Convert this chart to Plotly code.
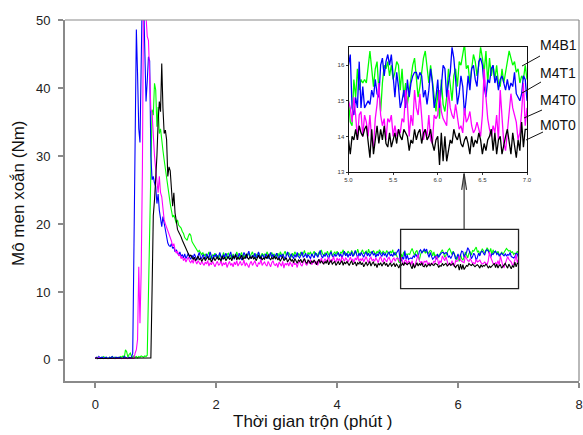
import numpy as np
import plotly.graph_objects as go

# ---------------- data (torque in Nm, sampled every 0.02 min) ----------------
step_min = 0.02

torque_M4B1 = [  # green
    0.3,0.2,0.4,0.3,0.2,0.4,0.3,0.5,0.3,0.4,
    0.2,0.3,0.4,0.3,0.5,0.3,0.4,0.2,0.3,0.4,
    0.3,0.5,0.4,0.6,0.3,1.5,1.2,0.4,0.8,1.0,
    0.5,0.4,0.6,0.4,0.5,0.3,0.5,0.4,0.6,0.5,
    0.4,0.6,0.5,0.7,8.8,21.0,28.4,36.8,36.0,40.7,
    39.7,34.3,37.2,33.3,34.0,31.9,30.8,29.4,28.0,26.5,
    25.5,24.5,23.0,22.0,21.0,21.3,20.5,20.1,20.6,19.8,
    19.6,19.4,18.9,18.6,18.0,17.8,17.6,18.2,18.6,18.3,
    17.4,17.1,16.8,16.4,16.2,15.9,16.1,15.7,15.5,15.8,
    15.3,15.6,15.1,15.4,15.9,15.2,14.9,15.5,15.3,15.7,
    15.1,15.4,14.8,15.6,15.2,15.0,15.8,15.3,14.9,15.5,
    15.7,15.2,15.4,14.9,15.6,15.1,15.3,15.9,15.2,15.0,
    15.5,15.8,15.1,15.4,15.0,15.6,15.3,15.7,15.2,15.5,
    15.9,15.3,15.0,15.6,15.2,15.8,15.4,15.1,15.7,15.3,
    15.6,15.2,15.9,15.4,15.1,15.5,15.8,15.3,15.6,15.0,
    15.4,15.7,15.2,15.9,15.5,15.1,15.6,16.0,15.3,15.5,
    15.8,15.4,15.1,15.7,15.3,15.9,15.5,15.2,15.6,15.4,
    15.9,15.3,15.6,16.1,15.4,15.2,15.8,15.5,15.9,15.3,
    15.6,16.0,15.4,15.7,15.2,15.9,15.5,16.2,15.6,15.3,
    15.8,15.5,16.0,15.4,15.7,16.1,15.3,15.6,15.9,15.5,
    16.0,15.6,15.3,15.9,15.7,16.2,15.5,15.8,15.4,16.0,
    15.7,15.5,16.1,15.8,15.4,16.0,15.6,16.3,15.7,15.5,
    15.9,16.2,15.6,15.8,16.0,15.5,16.3,15.7,15.9,15.6,
    16.1,15.8,15.5,16.0,15.7,16.2,15.9,15.6,16.0,15.8,
    15.6,16.1,15.8,15.5,16.0,15.7,16.2,15.4,15.9,15.5,
    15.0,14.4,14.3,15.6,15.1,15.9,15.3,15.6,15.5,15.6,
    15.5,16.0,16.4,15.9,15.4,15.9,16.1,15.3,14.7,15.5,
    16.0,15.9,16.1,15.7,16.0,15.6,15.8,16.1,16.0,15.3,
    15.9,15.1,15.5,14.9,15.3,15.6,16.0,16.2,15.7,15.1,
    15.4,15.9,16.2,16.4,15.9,15.5,16.0,15.6,15.1,14.7,
    15.3,14.5,15.6,14.9,14.7,15.1,15.9,15.4,15.0,15.7,
    15.9,15.4,16.1,16.0,16.4,16.6,15.9,16.0,15.5,15.9,
    16.3,16.1,15.7,16.0,16.5,16.2,15.8,16.4,15.5,16.2,
    15.7,16.0,15.6,16.0,15.5,15.4,15.9,15.5,15.8,16.2,
    16.4,16.2,16.0,16.1,15.8,15.9,15.5,15.7,15.6,16.0,
    15.6,
]

torque_M4T1 = [  # blue
    0.3,0.4,0.2,0.5,0.3,0.3,0.4,0.2,0.3,0.4,
    0.3,0.2,0.4,0.3,0.5,0.3,0.2,0.4,0.3,0.3,
    0.4,0.3,0.2,0.3,0.5,0.4,0.3,0.2,0.4,0.3,
    0.4,1.0,16.4,30.0,48.6,42.0,34.0,32.0,45.0,55.0,
    53.0,44.0,38.0,41.0,44.6,44.0,30.0,26.5,27.0,26.0,
    25.5,23.0,24.4,22.0,20.5,19.6,21.1,20.1,18.6,17.6,
    17.2,16.8,16.7,17.1,16.4,16.6,15.9,16.2,15.7,15.4,
    15.9,15.2,15.5,15.0,15.6,14.9,15.3,15.7,15.1,14.8,
    15.4,15.0,15.6,15.2,14.7,15.3,15.8,15.1,14.9,15.5,
    15.2,14.8,15.6,15.3,15.0,15.9,15.1,14.7,15.4,15.2,
    15.6,14.9,15.3,15.8,15.1,14.8,15.5,15.0,15.7,15.2,
    14.9,15.4,15.9,15.1,15.3,14.8,15.6,15.2,15.0,15.7,
    15.3,14.7,15.2,15.8,15.4,15.0,15.5,16.0,15.2,14.9,
    15.4,15.1,15.7,15.0,15.3,15.9,15.2,14.8,15.5,15.3,
    15.0,15.6,15.2,14.9,15.4,15.8,15.1,15.5,15.0,15.3,
    15.7,15.2,14.9,15.5,15.1,15.6,15.3,14.8,15.4,15.9,
    15.2,15.0,15.6,15.3,14.9,15.5,15.1,15.8,15.2,15.0,
    15.4,15.9,15.1,15.3,15.7,15.0,15.5,15.2,14.9,15.6,
    15.3,15.0,15.8,15.4,15.1,15.6,16.1,15.3,15.0,15.5,
    15.2,15.7,15.4,14.9,15.5,15.9,15.3,15.1,15.6,15.2,
    15.5,15.8,15.2,15.6,15.0,15.4,16.0,15.3,15.7,15.1,
    15.6,15.3,15.9,15.2,15.5,16.1,15.4,15.0,15.7,15.3,
    15.8,15.4,15.1,15.6,15.9,15.3,15.7,15.2,15.5,16.0,
    15.4,15.7,15.1,15.6,15.3,15.9,15.5,15.2,15.8,15.4,
    15.6,15.1,15.7,15.9,15.3,15.5,15.2,15.8,15.4,15.7,
    16.0,16.3,14.8,14.6,15.1,14.8,16.1,14.8,15.4,14.8,
    14.9,15.0,14.9,15.3,15.1,15.6,15.2,15.1,16.0,16.2,
    15.7,16.1,16.3,16.0,16.3,15.6,15.1,15.8,15.4,14.8,
    15.0,15.3,14.8,15.6,15.1,15.5,15.7,15.8,15.8,15.6,
    15.8,15.7,15.1,15.3,14.9,15.3,15.9,15.5,14.8,15.1,
    15.6,14.8,15.4,16.0,15.9,15.1,15.5,15.8,16.5,16.2,
    15.6,14.9,15.2,15.7,15.4,14.6,15.1,15.7,15.3,15.9,
    16.0,15.6,15.4,16.1,16.2,16.0,15.4,15.1,15.6,15.5,
    15.9,16.0,15.5,15.7,15.3,15.6,15.7,15.5,15.3,15.6,
    15.3,15.5,15.4,15.8,15.2,15.1,15.0,15.2,15.7,15.6,
    15.0,
]

torque_M4T0 = [  # magenta
    0.2,0.3,0.2,0.3,0.2,0.2,0.3,0.2,0.3,0.2,
    0.3,0.2,0.2,0.3,0.2,0.3,0.2,0.2,0.3,0.2,
    0.2,0.3,0.2,0.2,0.3,0.2,0.3,0.2,0.2,0.3,
    0.2,0.3,0.2,1.0,1.5,3.0,13.7,5.4,13.0,28.0,
    56.0,55.0,50.5,47.6,47.0,42.0,36.8,36.3,32.0,30.0,
    28.0,26.0,24.6,27.0,24.6,24.0,22.0,20.6,20.0,19.5,
    19.2,18.6,18.2,17.5,16.7,17.1,16.2,15.7,16.0,15.3,
    15.5,14.9,15.2,14.6,15.0,14.4,14.8,15.1,14.5,14.3,
    14.7,14.2,14.9,14.4,14.1,14.6,14.3,14.0,14.5,14.2,
    13.9,14.4,14.1,14.6,13.8,14.3,14.0,14.5,14.1,13.7,
    14.2,14.5,13.9,14.1,14.6,13.8,14.3,14.0,14.4,13.6,
    14.1,14.5,13.9,14.2,13.7,14.4,14.0,14.6,13.8,14.2,
    14.5,13.9,14.1,14.7,13.8,14.3,14.0,13.6,14.2,14.5,
    13.9,14.2,14.6,14.0,13.7,14.3,14.1,14.8,13.9,14.2,
    14.4,14.0,13.8,14.5,14.1,13.7,14.3,14.6,14.0,13.9,
    14.2,13.6,14.4,14.1,13.8,14.5,13.5,14.2,14.0,14.3,
    13.8,14.4,14.1,13.7,14.6,14.0,14.2,13.6,14.3,14.5,
    14.0,13.8,14.4,14.9,14.1,13.9,14.6,14.2,14.8,14.0,
    14.3,14.7,14.1,14.5,13.9,14.8,14.4,15.0,14.2,14.6,
    14.9,14.4,14.7,15.1,14.3,14.8,14.5,15.2,14.6,14.4,
    15.0,14.6,14.9,14.3,15.2,14.7,14.5,15.0,14.8,14.4,
    14.9,15.1,14.6,14.8,14.3,15.0,14.7,15.3,14.5,14.9,
    14.6,15.0,14.4,14.8,15.2,14.7,14.3,14.9,15.1,14.6,
    14.8,14.5,15.0,14.7,14.3,14.9,15.2,14.6,14.4,15.0,
    14.7,14.4,14.9,15.1,14.6,14.3,14.8,15.0,14.5,14.9,
    15.0,14.8,14.4,15.1,14.6,13.9,14.6,14.7,14.0,14.6,
    14.4,14.0,14.6,13.9,13.7,14.5,14.9,15.5,14.6,14.3,
    14.5,13.9,14.5,14.4,14.6,14.0,14.3,14.0,14.2,14.1,
    14.5,14.4,15.3,14.9,14.0,14.6,14.3,15.3,14.8,14.6,
    15.2,14.4,13.9,14.2,14.0,14.6,13.9,13.8,14.6,14.5,
    14.6,15.3,14.7,14.5,14.4,14.3,15.3,14.8,14.6,14.5,
    14.9,14.6,14.2,14.3,14.1,14.8,14.4,14.5,14.7,14.3,
    14.1,14.2,14.4,14.2,14.0,14.6,15.9,15.1,14.5,14.2,
    14.0,14.3,14.1,14.6,13.9,15.3,14.6,13.8,13.6,14.2,
    14.7,15.2,14.8,14.6,14.4,13.9,14.1,14.7,15.5,14.3,
    14.8,
]

torque_M0T0 = [  # black
    0.2,0.3,0.2,0.2,0.3,0.2,0.3,0.2,0.2,0.3,
    0.2,0.2,0.3,0.2,0.3,0.2,0.2,0.3,0.2,0.2,
    0.3,0.2,0.2,0.3,0.2,0.3,0.2,0.2,0.3,0.2,
    0.2,0.3,0.2,0.2,0.3,0.2,0.3,0.2,0.2,0.3,
    0.2,0.3,0.2,0.3,0.2,0.3,0.3,10.3,21.2,23.5,
    26.0,30.0,35.0,38.0,36.5,43.6,37.0,33.3,33.8,32.4,
    27.0,28.4,27.8,25.0,22.6,24.6,21.6,20.5,19.2,18.8,
    18.5,18.1,17.6,17.2,16.8,16.2,16.0,15.6,15.2,15.4,
    15.0,14.8,15.1,14.6,14.9,15.3,14.7,15.0,14.5,14.8,
    15.1,14.6,14.9,15.2,14.7,15.0,14.4,14.8,15.1,14.6,
    14.9,15.2,14.7,15.0,14.5,15.3,14.8,15.1,14.6,14.9,
    15.2,14.8,15.0,14.6,15.3,14.9,15.5,14.7,15.1,14.8,
    15.0,15.4,14.7,15.1,14.9,15.6,15.0,14.8,15.2,14.9,
    15.3,14.8,15.1,14.6,15.0,15.4,14.9,15.2,14.7,15.0,
    14.8,15.2,14.9,15.5,15.0,14.7,15.1,14.8,15.3,14.9,
    15.1,14.7,15.0,14.5,14.9,15.2,14.6,14.8,15.0,14.4,
    14.7,15.0,14.5,14.8,14.3,14.9,14.6,14.2,14.7,14.5,
    14.8,14.3,14.6,14.9,14.4,14.2,14.7,14.5,14.1,14.6,
    14.3,14.7,14.4,14.0,14.5,14.8,14.2,14.6,14.3,14.1,
    14.5,14.2,14.7,14.0,14.4,14.6,14.1,14.3,14.5,13.9,
    14.2,14.5,14.0,14.3,14.6,13.9,14.4,14.1,14.5,14.2,
    13.9,14.3,14.6,14.0,14.2,14.4,13.8,14.3,14.1,14.5,
    14.0,14.3,13.7,14.2,14.4,13.9,14.1,14.5,13.8,14.2,
    14.4,13.9,14.1,13.6,14.2,14.0,14.3,13.8,14.1,14.4,
    13.9,14.2,13.7,14.1,14.3,13.8,14.0,14.2,13.7,14.1,
    13.9,13.5,14.0,13.9,14.2,13.9,14.3,14.1,14.0,14.2,
    14.3,13.8,13.4,14.2,13.5,13.9,14.3,13.8,14.2,13.9,
    14.3,13.8,13.7,14.1,13.7,13.9,14.1,13.8,14.2,14.0,
    13.9,14.2,14.1,14.0,13.6,13.9,13.8,14.2,13.9,14.1,
    14.2,13.8,14.1,14.2,13.9,14.0,14.2,13.8,13.6,13.9,
    14.0,13.2,14.1,13.3,14.0,13.3,13.6,13.9,13.8,14.2,
    14.0,13.9,14.1,13.8,13.7,13.9,14.0,13.8,13.5,14.0,
    13.7,13.9,13.8,14.1,13.9,13.5,13.8,13.6,13.9,14.0,
    14.2,13.6,14.1,13.5,13.9,14.0,13.5,13.8,14.0,14.2,
    13.8,13.5,14.1,13.8,13.4,13.9,13.6,14.4,13.7,14.2,
    14.2,
]

series_names = ["M4B1", "M4T1", "M4T0", "M0T0"]
series_values = [torque_M4B1, torque_M4T1, torque_M4T0, torque_M0T0]
series_colors = ["#00ff00", "#0000ff", "#ff00ff", "#000000"]

main_x_ticks = [0, 2, 4, 6, 8]
main_y_ticks = [0, 10, 20, 30, 40, 50]
inset_x_ticks = [5.0, 5.5, 6.0, 6.5, 7.0]
inset_x_labels = ["5.0", "5.5", "6.0", "6.5", "7.0"]
inset_y_ticks = [13, 14, 15, 16]
inset_window = (5.0, 7.0)

# ---------------- layout geometry ----------------
W, H = 583, 435
ML, MR, MT, MB = 65, 4, 20, 54
PW, PH = W - ML - MR, H - MT - MB


def px(x):
    return (x - ML) / PW


def py(y):
    return 1 - (y - MT) / PH


fig = go.Figure()

for name, vals, col in zip(series_names, series_values, series_colors):
    t = np.round(np.arange(len(vals)) * step_min, 2)
    fig.add_trace(go.Scatter(x=t, y=vals, mode="lines", name=name,
                             line=dict(color=col, width=1.1),
                             showlegend=False, xaxis="x", yaxis="y"))

for name, vals, col in zip(series_names, series_values, series_colors):
    t = np.round(np.arange(len(vals)) * step_min, 2)
    mask = (t >= inset_window[0] - 1e-9) & (t <= inset_window[1] + 1e-9)
    fig.add_trace(go.Scatter(x=t[mask], y=np.array(vals)[mask], mode="lines",
                             name=name, line=dict(color=col, width=1.3),
                             showlegend=False, xaxis="x2", yaxis="y2"))

axis_gray = "#8a8a8a"
fig.update_layout(
    template="none",
    width=W, height=H, autosize=False,
    margin=dict(l=ML, r=MR, t=MT, b=MB, pad=0, autoexpand=False),
    paper_bgcolor="white", plot_bgcolor="white",
    showlegend=False,
    font=dict(family="Liberation Sans, Arial, sans-serif", color="#222"),
    xaxis=dict(range=[-0.5, 8], tickvals=main_x_ticks, ticks="outside",
               ticklen=5, tickwidth=1.5, tickcolor=axis_gray, showline=True,
               linecolor=axis_gray, linewidth=2, showgrid=False, zeroline=False,
               tickfont=dict(size=13, color="#222"), ticklabelstandoff=5,
               ticklabeloverflow="allow", automargin=False, domain=[0, 1]),
    yaxis=dict(range=[-3.1, 50], tickvals=main_y_ticks, ticks="outside",
               ticklen=5, tickwidth=1.5, tickcolor=axis_gray, showline=True,
               linecolor=axis_gray, linewidth=2, showgrid=False, zeroline=False,
               tickfont=dict(size=13, color="#222"), ticklabelstandoff=5,
               automargin=False, domain=[0, 1]),
    xaxis2=dict(domain=[px(348.5), px(527)], anchor="y2", range=list(inset_window),
                tickvals=inset_x_ticks, ticktext=inset_x_labels, ticks="outside",
                ticklen=2, tickcolor="#333", showline=True, mirror=True,
                linecolor="#111", linewidth=1, showgrid=False, zeroline=False,
                automargin=False, tickfont=dict(size=6, color="#333")),
    yaxis2=dict(domain=[py(172), py(46.7)], anchor="x2", range=[13, 16.52],
                tickvals=inset_y_ticks, ticks="outside", ticklen=2,
                tickcolor="#333", showline=True, mirror=True, linecolor="#111",
                linewidth=1, showgrid=False, zeroline=False, automargin=False,
                tickfont=dict(size=6, color="#333")),
)

shapes = []
# top & right frame of main plot
shapes.append(dict(type="line", xref="paper", yref="paper", x0=0, x1=1, y0=1, y1=1,
                   line=dict(color=axis_gray, width=1.2)))
shapes.append(dict(type="line", xref="paper", yref="paper", x0=1, x1=1, y0=0, y1=1,
                   line=dict(color=axis_gray, width=1.2)))
# zoom rectangle in the main plot
shapes.append(dict(type="rect", xref="x", yref="y", x0=5.05, x1=7.0, y0=10.5, y1=19.2,
                   line=dict(color="#222", width=1.3)))
# arrow from the rectangle to the inset
shapes.append(dict(type="line", xref="x", yref="y", x0=6.1, x1=6.1, y0=19.2, y1=27.4,
                   line=dict(color="#333", width=1.2)))
shapes.append(dict(type="line", xref="x", yref="y", x0=6.06, x1=6.1, y0=25.0, y1=27.4,
                   line=dict(color="#333", width=1.2)))
shapes.append(dict(type="line", xref="x", yref="y", x0=6.14, x1=6.1, y0=25.0, y1=27.4,
                   line=dict(color="#333", width=1.2)))
# leader lines for series labels
leaders = [((522, 66), (540, 56)), ((522, 93), (541, 82)),
           ((524, 118), (542, 110)), ((526, 140), (543, 132))]
for (x0, y0), (x1, y1) in leaders:
    shapes.append(dict(type="line", xref="paper", yref="paper", x0=px(x0), y0=py(y0),
                       x1=px(x1), y1=py(y1), line=dict(color="#111", width=1)))
fig.update_layout(shapes=shapes)

annotations = []
label_pos = [(538, 45), (538, 73), (538, 100), (538, 125)]
for name, (x, y) in zip(series_names, label_pos):
    annotations.append(dict(text=name, xref="paper", yref="paper", x=px(x), y=py(y),
                            xanchor="left", yanchor="middle", showarrow=False,
                            font=dict(size=14, color="#111")))
annotations.append(dict(text="Thời gian trộn (phút )", xref="paper", yref="paper",
                        x=px(313), y=py(421), xanchor="center", yanchor="middle",
                        showarrow=False, font=dict(size=17, color="#111")))
annotations.append(dict(text="Mô men xoắn (Nm)", xref="paper", yref="paper",
                        x=px(18), y=py(194), xanchor="center", yanchor="middle",
                        textangle=-90, showarrow=False,
                        font=dict(size=17, color="#111")))
fig.update_layout(annotations=annotations)

fig.write_html(
    "out.html",
    config={"displayModeBar": False, "responsive": False},
    post_script="document.body.style.margin='0';document.body.style.padding='0';"
                "document.documentElement.style.overflow='hidden';",
)
